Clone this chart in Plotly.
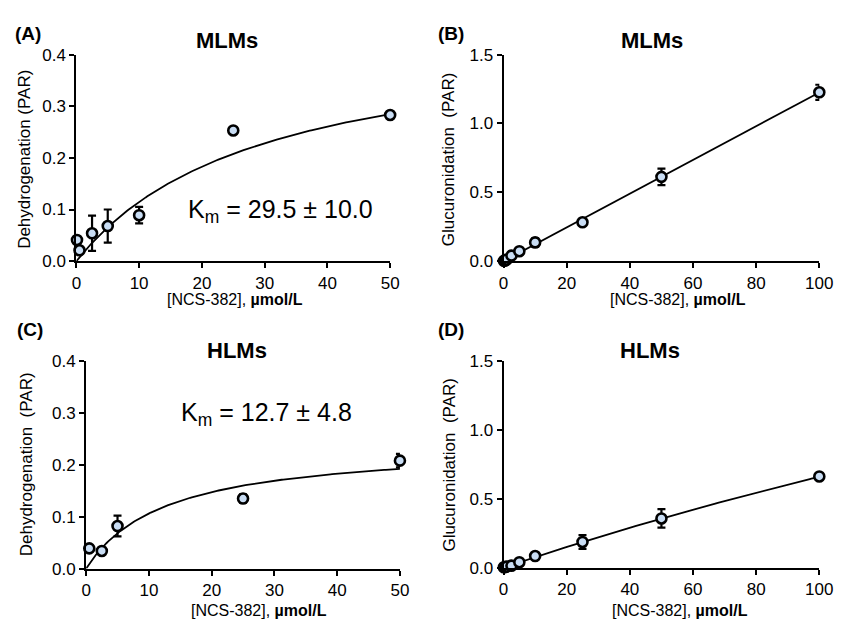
import numpy as np
import plotly.graph_objects as go

# ---------------- data ----------------
# (A) MLMs dehydrogenation
A_x = [0.1, 0.5, 2.5, 5, 10, 25, 50]
A_y = [0.041, 0.021, 0.054, 0.068, 0.089, 0.253, 0.283]
A_err = [0, 0, 0.034, 0.032, 0.016, 0, 0]
A_km, A_vmax = 29.5, 0.453

# (B) MLMs glucuronidation
B_x = [0.1, 0.5, 1, 2.5, 5, 10, 25, 50, 100]
B_y = [0.002, 0.005, 0.012, 0.040, 0.072, 0.136, 0.282, 0.612, 1.226]
B_err = [0, 0, 0, 0, 0.008, 0.030, 0.010, 0.060, 0.055]
B_slope = 0.01225

# (C) HLMs dehydrogenation
C_x = [0.5, 2.5, 5, 25, 50]
C_y = [0.039, 0.034, 0.082, 0.135, 0.208]
C_err = [0, 0, 0.020, 0.008, 0.013]
C_km, C_vmax = 12.7, 0.241

# (D) HLMs glucuronidation
D_x = [0.1, 0.5, 1, 2.5, 5, 10, 25, 50, 100]
D_y = [0.002, 0.004, 0.008, 0.014, 0.039, 0.084, 0.186, 0.357, 0.662]
D_err = [0, 0, 0, 0, 0.005, 0.006, 0.050, 0.067, 0.010]
D_km, D_vmax = 564, 4.38

FONT = "Liberation Sans, Arial, sans-serif"
FILL = "#c9ddf4"

fig = go.Figure()


def mm(x, vmax, km):
    x = np.asarray(x, dtype=float)
    return vmax * x / (km + x)


def add_panel(xs, ys, errs, fit_x, fit_y, ax):
    xa = "x" if ax == 1 else f"x{ax}"
    ya = "y" if ax == 1 else f"y{ax}"
    fig.add_trace(go.Scatter(x=fit_x, y=fit_y, mode="lines",
                             line=dict(color="black", width=1.8),
                             xaxis=xa, yaxis=ya, showlegend=False,
                             cliponaxis=False))
    fig.add_trace(go.Scatter(x=xs, y=ys, mode="markers",
                             marker=dict(size=10, color=FILL,
                                         line=dict(color="black", width=2.6)),
                             error_y=dict(type="data", array=errs, visible=True,
                                          color="black", thickness=2.2, width=4),
                             xaxis=xa, yaxis=ya, showlegend=False,
                             cliponaxis=False))


fa = np.linspace(0, 50, 200)
add_panel(A_x, A_y, A_err, fa, mm(fa, A_vmax, A_km), 1)
fb = np.array([0, 100])
add_panel(B_x, B_y, B_err, fb, B_slope * fb, 2)
fc = np.linspace(0, 50, 200)
add_panel(C_x, C_y, C_err, fc, mm(fc, C_vmax, C_km), 3)
fd = np.linspace(0, 100, 200)
add_panel(D_x, D_y, D_err, fd, mm(fd, D_vmax, D_km), 4)

axis_common = dict(showline=True, linecolor="black", linewidth=2,
                   ticks="outside", ticklen=5, tickwidth=2, tickcolor="black",
                   showgrid=False, zeroline=False,
                   tickfont=dict(family=FONT, size=17, color="black"))

W, H = 847, 629


def px(xp):
    return xp / W


def py(yp):
    return 1 - yp / H


fig.update_layout(
    width=W, height=H,
    margin=dict(l=0, r=0, t=0, b=0),
    paper_bgcolor="white", plot_bgcolor="white",
    xaxis=dict(domain=[px(73), px(394)], range=[0, 50], tickvals=[0, 10, 20, 30, 40, 50],
               anchor="y", **axis_common),
    yaxis=dict(domain=[py(260), py(47)], range=[0, 0.4], tickvals=[0, 0.1, 0.2, 0.3, 0.4],
               tickformat=".1f", anchor="x", **axis_common),
    xaxis2=dict(domain=[px(510), px(833)], range=[0, 100], tickvals=[0, 20, 40, 60, 80, 100],
                anchor="y2", **axis_common),
    yaxis2=dict(domain=[py(260), py(47)], range=[0, 1.5], tickvals=[0, 0.5, 1.0, 1.5],
                tickformat=".1f", anchor="x2", **axis_common),
    xaxis3=dict(domain=[px(83), px(404)], range=[0, 50], tickvals=[0, 10, 20, 30, 40, 50],
                anchor="y3", **axis_common),
    yaxis3=dict(domain=[py(577), py(363)], range=[0, 0.4], tickvals=[0, 0.1, 0.2, 0.3, 0.4],
                tickformat=".1f", anchor="x3", **axis_common),
    xaxis4=dict(domain=[px(510), px(833)], range=[0, 100], tickvals=[0, 20, 40, 60, 80, 100],
                anchor="y4", **axis_common),
    yaxis4=dict(domain=[py(576), py(363)], range=[0, 1.5], tickvals=[0, 0.5, 1.0, 1.5],
                tickformat=".1f", anchor="x4", **axis_common),
)

ann = []


def text(x, y, s, size, bold=False, angle=0, xanchor="center"):
    ann.append(dict(x=x, y=y, xref="paper", yref="paper", text=(f"<b>{s}</b>" if bold else s),
                    showarrow=False, textangle=angle, xanchor=xanchor, yanchor="middle",
                    font=dict(family=FONT, size=size, color="black")))


# panel letters
text(px(8), py(25), "(A)", 19, True, xanchor="left")
text(px(441), py(25), "(B)", 19, True, xanchor="left")
text(px(10), py(330), "(C)", 19, True, xanchor="left")
text(px(441), py(330), "(D)", 19, True, xanchor="left")
# titles
text(px(227), py(32), "MLMs", 22, True)
text(px(662), py(32), "MLMs", 22, True)
text(px(237), py(352), "HLMs", 22, True)
text(px(660), py(352), "HLMs", 22, True)
# y titles
text(px(20), py(155), "Dehydrogenation (PAR)", 17, angle=-90)
text(px(453), py(155), "Glucuronidation  (PAR)", 17, angle=-90)
text(px(22), py(470), "Dehydrogenation  (PAR)", 17, angle=-90)
text(px(455), py(470), "Glucuronidation  (PAR)", 17, angle=-90)
# x titles
xt = "[NCS-382], <b>µmol/L</b>"
text(px(235), py(300), xt, 16)
text(px(688), py(300), xt, 16)
text(px(260), py(620), xt, 16)
text(px(691), py(620), xt, 16)

# Km annotations
ann.append(dict(x=32.5, y=0.098, xref="x", yref="y", text="K<sub>m</sub> = 29.5 ± 10.0",
                showarrow=False, font=dict(family=FONT, size=25, color="black")))
ann.append(dict(x=28.8, y=0.297, xref="x3", yref="y3", text="K<sub>m</sub> = 12.7 ± 4.8",
                showarrow=False, font=dict(family=FONT, size=25, color="black")))

fig.update_layout(annotations=ann)
fig.write_html("out.html", config={"displayModeBar": False},
               post_script="document.body.style.margin='0';")
